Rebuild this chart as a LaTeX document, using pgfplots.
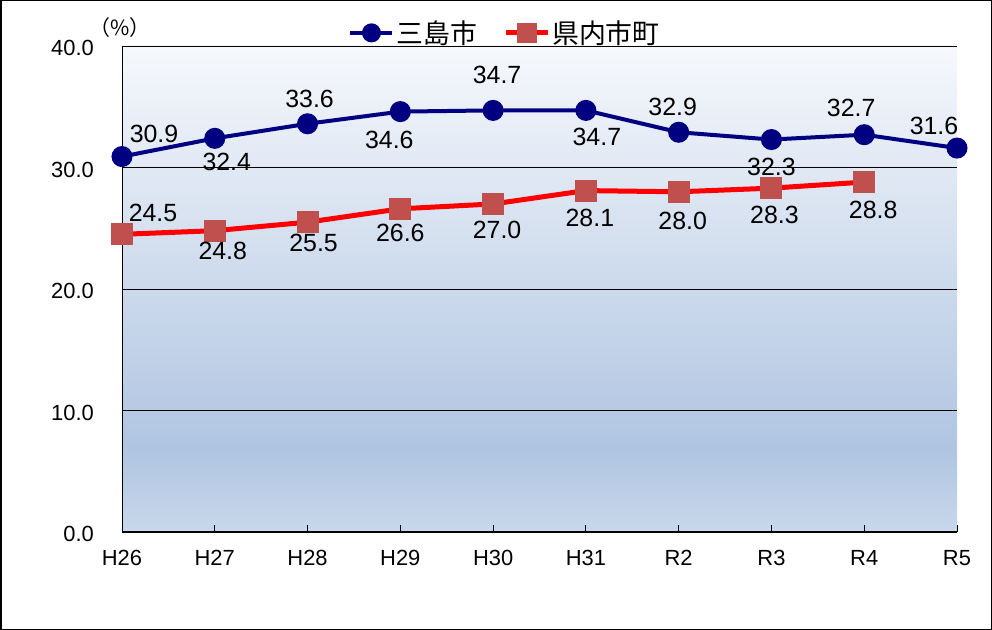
\documentclass[border=0pt]{standalone}
\usepackage{fontspec}
\setmainfont{Liberation Sans}
\newfontfamily\cjk{Noto Sans CJK JP}
\usepackage{pgfplots}
\pgfplotsset{compat=1.18}
\definecolor{bgtop}{HTML}{F6F8FC}
\definecolor{bgmid}{HTML}{B0C5E1}
\definecolor{bgbot}{HTML}{C9D8EB}
\definecolor{mishima}{HTML}{000080}
\definecolor{kenred}{HTML}{FF0000}
\definecolor{kenmark}{HTML}{C0504D}
\pgfdeclareverticalshading{plotbg}{100bp}{color(0bp)=(bgbot); color(25bp)=(bgbot); color(33.5bp)=(bgmid); color(75bp)=(bgtop); color(100bp)=(bgtop)}
\pgfplotsset{/pgf/number format/assume math mode=true}
\begin{document}
\begin{tikzpicture}
\useasboundingbox (0,0) rectangle (992bp,630bp);
\draw[line width=1.5bp] (0.75bp,0.75bp) rectangle (991.25bp,629.25bp);
\node[font=\cjk\fontsize{21}{21}\selectfont, inner sep=0pt] at (120bp,602bp) {（\%）};
\begin{axis}[
  at={(122bp,98bp)}, anchor=south west,
  scale only axis, width=835bp, height=486bp,
  clip=false,
  xmin=0, xmax=9, ymin=0, ymax=40,
  axis x line*=bottom, axis y line*=left,
  axis line style={-, black, line width=1bp},
  every outer x axis line/.append style={-},
  every outer y axis line/.append style={-},
  every inner x axis line/.append style={-},
  every inner y axis line/.append style={-},
  axis background/.style={shading=plotbg},
  xtick={0,...,9},
  xticklabels={H26,H27,H28,H29,H30,H31,R2,R3,R4,R5},
  ytick={0,10,20,30,40},
  ymajorgrids,
  major grid style={black, line width=0.8bp},
  x tick style={black, line width=0.8bp},
  xtick align=inside,
  major tick length=7bp,
  y tick style={draw=none},
  tick label style={font=\fontsize{22}{22}\selectfont},
  yticklabel={\pgfmathprintnumber[fixed,fixed zerofill,precision=1]{\tick}},
  yticklabel style={inner sep=0pt, anchor=east, xshift=-28bp, yshift=-2bp},
  xticklabel style={inner sep=0pt, anchor=north, yshift=-18bp},
  legend columns=2,
  legend style={draw=none, fill=none, inner sep=0pt, at={(axis description cs:0.271,1.027)}, anchor=west,
    nodes={inner sep=2bp, font=\cjk\fontsize{27}{27}\selectfont}, column sep=0bp,
    /tikz/every even column/.append style={column sep=24bp}},
  legend image code/.code={\draw[#1, mark repeat=2, mark phase=2, mark size=7.5bp] plot coordinates {(0bp,0bp) (21bp,0bp) (42bp,0bp)};},
  nodes near coords={\pgfmathprintnumber[fixed,fixed zerofill,precision=1]{\pgfplotspointmeta}},
  nodes near coords style={anchor=center, inner sep=0pt, font=\fontsize{25}{25}\selectfont, text=black},
]
\addplot[color=mishima, line width=4bp, mark=*, mark size=8.5bp, mark options={fill=mishima, draw=mishima},
  visualization depends on={\thisrow{dx}\as\dx},
  visualization depends on={\thisrow{dy}\as\dy},
  nodes near coords style={xshift=\dx bp, yshift=\dy bp}]
  table[x=x, y=y] {
x y dx dy
0 30.9 32 23
1 32.4 12 -24
2 33.6 2 25
3 34.6 -11 -28
4 34.7 4 35
5 34.7 11 -27
6 32.9 -6 25
7 32.3 0 -27
8 32.7 -13 27
9 31.6 -23 22
};
\addlegendentry{三島市}
\addplot[color=kenred, line width=5bp, mark=square*, mark size=8.5bp, mark options={fill=kenmark, draw=kenmark},
  visualization depends on={\thisrow{dx}\as\dx},
  visualization depends on={\thisrow{dy}\as\dy},
  nodes near coords style={xshift=\dx bp, yshift=\dy bp}]
  table[x=x, y=y] {
x y dx dy
0 24.5 31 21
1 24.8 8 -20
2 25.5 6 -21
3 26.6 0 -24
4 27.0 4 -26
5 28.1 4 -27
6 28.0 4 -29
7 28.3 3 -27
8 28.8 9 -28
};
\addlegendentry{県内市町}
\end{axis}
\end{tikzpicture}
\end{document}
